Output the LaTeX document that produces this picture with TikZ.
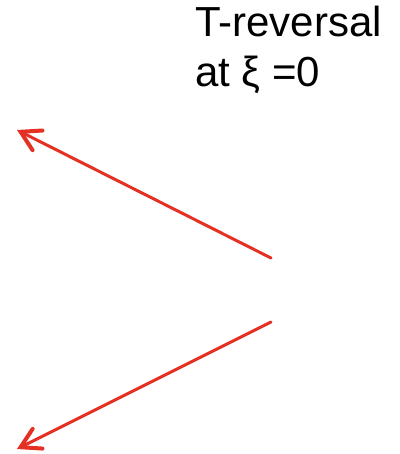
\documentclass[tikz,border=0pt]{standalone}
\usepackage{fontspec}
\setmainfont{Liberation Sans}
\usetikzlibrary{arrows.meta}
\definecolor{arrowred}{RGB}{228,49,35}
\tikzset{>={Straight Barb[length=19pt,width=22pt,line width=4pt,line cap=round]}}
\tikzset{flip/.style={->, arrowred, line width=3pt, line cap=round}}
\tikzset{label/.style={anchor=base west, inner sep=0pt, font=\fontsize{42}{50}\selectfont}}

\begin{document}
\begin{tikzpicture}[x=1pt,y=1pt]
  \useasboundingbox (0,0) rectangle (399,454);
  % caption
  \node[label] (line1) at (195,417) {T-reversal};
  \node[label] (line2) at (195,367) {at ξ =0};
  % the two rays
  \coordinate (upstart) at (271,196);
  \coordinate (upend) at (17,324);
  \coordinate (downstart) at (271,132);
  \coordinate (downend) at (17,5);
  \draw[flip] (upstart) -- (upend);
  \draw[flip] (downstart) -- (downend);
\end{tikzpicture}
\end{document}
